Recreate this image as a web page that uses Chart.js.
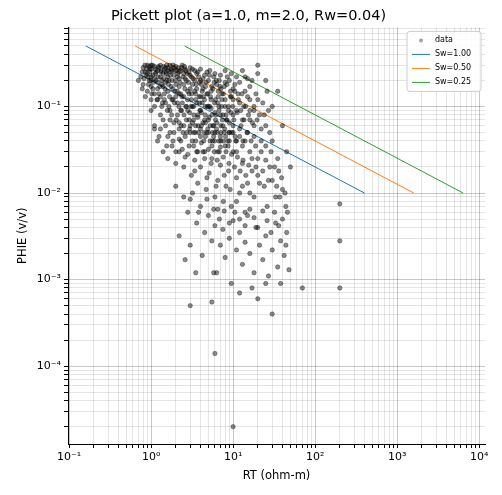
<!DOCTYPE html>
<html>
<head>
<meta charset="utf-8">
<script src="https://cdn.jsdelivr.net/npm/chart.js@4.4.0/dist/chart.umd.min.js"></script>
<style>
body{margin:0;background:#fff}
#wrap{width:502px;height:495px}
</style>
</head>
<body>
<div id="wrap"><canvas id="c" width="502" height="495"></canvas></div>
<script>
// scatter points (RT, PHIE)
const dataPts=[
0.75,0.22,0.8,0.28,0.85,0.25,0.9,0.3,0.95,0.2,1.0,0.27,1.05,0.23,1.1,0.29,1.2,0.26,1.3,0.3,
1.4,0.24,1.5,0.28,1.6,0.22,1.7,0.3,1.8,0.26,2.0,0.29,2.2,0.25,2.4,0.3,2.6,0.27,3.0,0.28,
0.8,0.18,0.9,0.15,1.0,0.12,1.0,0.17,1.1,0.1,1.1,0.14,1.2,0.19,1.3,0.08,1.3,0.13,1.4,0.17,
1.5,0.06,1.5,0.11,1.6,0.15,1.7,0.09,1.8,0.2,1.9,0.05,2.0,0.13,2.1,0.08,2.2,0.17,2.3,0.04,
2.4,0.11,2.5,0.06,2.6,0.21,2.8,0.09,2.9,0.14,3.0,0.05,3.2,0.18,3.3,0.07,3.5,0.12,3.6,0.03,
3.8,0.22,4.0,0.09,4.2,0.15,4.4,0.05,4.6,0.1,4.8,0.25,5.0,0.07,5.3,0.13,5.6,0.04,5.9,0.19,
6.2,0.08,6.5,0.11,6.8,0.03,7.1,0.16,7.5,0.06,8.0,0.1,8.5,0.22,9.0,0.05,9.5,0.13,10,0.08,
10.5,0.18,11,0.04,12,0.11,13,0.07,14,0.15,15,0.05,16,0.09,17,0.2,18,0.06,20,0.12,
22,0.04,24,0.08,26,0.15,28,0.05,30,0.1,1.2,0.04,1.4,0.03,1.6,0.025,1.8,0.035,2.0,0.022,
2.2,0.03,2.5,0.02,2.8,0.028,3.1,0.016,3.4,0.024,3.7,0.013,4.0,0.02,4.3,0.03,4.7,0.011,
5.1,0.017,5.5,0.025,6.0,0.009,6.5,0.014,7.0,0.021,7.6,0.008,8.2,0.012,8.8,0.018,9.5,0.007,
10,0.03,11,0.015,12,0.01,13,0.022,14,0.006,15,0.013,17,0.025,18,0.009,20,0.016,22,0.03,
24,0.012,26,0.007,28,0.02,30,0.014,33,0.009,36,0.018,40,0.011,44,0.007,30,0.04,35,0.025,
2.0,0.012,2.5,0.009,2.8,0.006,3.2,0.01,3.6,0.0045,4.0,0.007,4.5,0.0035,5.0,0.0055,5.5,0.0028,
6.0,0.0042,6.5,0.0065,7.0,0.0025,7.5,0.0038,8.0,0.0018,9.0,0.003,10,0.0048,11,0.0022,
12,0.0035,13,0.0015,14,0.0027,15,0.0055,16,0.002,18,0.0012,19,0.004,21,0.0025,23,0.0017,
25,0.0032,27,0.0011,30,0.0022,33,0.0045,35,0.0014,38,0.0028,42,0.0019,45,0.0035,48,0.0013,
2.2,0.0032,2.6,0.0017,3.0,0.0025,3.5,0.0012,4.2,0.0019,5.8,0.0012,6.3,0.0012,9.5,0.0009,
12,0.0007,17,0.0008,20,0.0006,25,0.0009,30,0.0004,38,0.0009,3.0,0.0005,5.5,0.00055,
6.0,0.00014,10,0.00002,200,0.0075,200,0.0028,200,0.0008,70,0.0008,
1.0,0.22,1.0,0.2,1.1,0.21,1.2,0.16,1.3,0.22,1.5,0.19,1.6,0.26,1.8,0.12,2.0,0.18,2.1,0.22,
2.3,0.14,2.5,0.18,2.7,0.1,3.0,0.16,3.2,0.1,3.4,0.2,3.7,0.08,4.0,0.13,4.1,0.18,4.5,0.07,
4.8,0.14,5.2,0.1,5.5,0.17,5.8,0.06,6.1,0.12,6.6,0.15,7.0,0.08,7.3,0.12,7.8,0.17,8.3,0.07,
8.8,0.1,9.3,0.15,10,0.12,11,0.09,11.5,0.14,12.5,0.06,13.5,0.1,15,0.13,16,0.07,18,0.1,
19,0.14,21,0.08,23,0.11,25,0.06,27,0.09,3.0,0.06,3.5,0.04,4.0,0.045,4.5,0.03,5.0,0.05,
5.5,0.035,6.0,0.05,6.5,0.03,7.0,0.045,8.0,0.035,9.0,0.04,10,0.05,11,0.03,12,0.045,
13,0.035,14,0.04,16,0.03,18,0.045,20,0.025,22,0.055,25,0.035,0.9,0.24,0.95,0.29,1.0,0.3,
1.15,0.25,1.25,0.28,1.35,0.2,1.45,0.27,1.55,0.3,1.65,0.2,1.75,0.27,1.9,0.23,2.05,0.26,
2.2,0.21,2.35,0.28,2.5,0.24,2.7,0.2,2.9,0.25,3.1,0.22,3.4,0.26,3.6,0.16,3.9,0.19,4.3,0.21,
4.6,0.17,5.0,0.2,5.4,0.15,5.8,0.22,6.3,0.18,6.8,0.2,7.3,0.14,8.0,0.19,9.0,0.2,10,0.16,
12,0.19,14,0.22,16,0.17,20,0.24,20,0.3,25,0.2,35,0.15,40,0.06,45,0.03,50,0.02,
1.3,0.055,1.6,0.045,1.9,0.065,2.2,0.055,2.6,0.045,2.9,0.035,3.3,0.05,1.7,0.07,2.3,0.09,
0.7,0.2,0.78,0.16,0.85,0.13,0.92,0.22,1.0,0.09,1.1,0.06,1.2,0.12,1.35,0.1,1.45,0.14
];
// extra points in the dense core of the cloud
const corePts=[
0.82,0.21,0.88,0.27,0.93,0.18,0.97,0.25,1.02,0.14,1.07,0.19,1.12,0.27,1.18,0.12,1.22,0.22,1.28,0.17,
1.33,0.26,1.38,0.11,1.42,0.21,1.48,0.16,1.53,0.24,1.58,0.09,1.63,0.18,1.68,0.13,1.72,0.23,1.78,0.08,
1.83,0.16,1.88,0.28,1.93,0.11,1.98,0.2,2.03,0.07,2.08,0.15,2.13,0.24,2.18,0.1,2.25,0.19,2.32,0.06,
2.38,0.13,2.45,0.22,2.52,0.08,2.58,0.16,2.65,0.26,2.72,0.05,2.78,0.12,2.85,0.19,2.92,0.07,2.98,0.23,
3.05,0.1,3.12,0.14,3.18,0.04,3.25,0.21,3.32,0.08,3.4,0.15,3.48,0.06,3.55,0.18,3.62,0.11,3.7,0.25,
3.78,0.05,3.85,0.13,3.93,0.09,4.02,0.2,4.1,0.06,4.2,0.11,4.3,0.16,4.38,0.04,4.48,0.12,4.58,0.08,
4.68,0.19,4.78,0.05,4.9,0.14,5.02,0.1,5.14,0.23,5.26,0.06,5.4,0.12,5.52,0.08,5.66,0.16,5.8,0.045,
5.95,0.11,6.1,0.07,6.25,0.2,6.4,0.05,6.56,0.13,6.72,0.09,6.9,0.17,7.06,0.04,7.24,0.1,7.42,0.07,
7.6,0.14,7.8,0.05,8.0,0.12,8.2,0.08,8.4,0.18,8.6,0.04,8.8,0.09,9.0,0.065,9.3,0.13,9.6,0.05,
9.9,0.1,10.2,0.07,10.5,0.15,10.8,0.04,11.2,0.085,11.6,0.12,12,0.055,12.4,0.09,12.8,0.14,13.2,0.04,
13.6,0.07,14.2,0.1,14.8,0.05,15.4,0.08,16,0.12,16.6,0.04,17.2,0.065,18,0.09,18.8,0.035,19.6,0.07,
1.05,0.16,1.15,0.2,1.25,0.14,1.35,0.18,1.45,0.12,1.55,0.2,1.65,0.1,1.75,0.17,1.85,0.12,1.95,0.15,
2.1,0.11,2.2,0.14,2.35,0.09,2.5,0.13,2.65,0.1,2.8,0.15,2.95,0.085,3.1,0.12,3.3,0.1,3.5,0.14,
3.7,0.075,3.9,0.11,4.1,0.085,4.35,0.13,4.6,0.065,4.85,0.1,5.1,0.075,5.4,0.095,5.7,0.06,6.0,0.085,
6.35,0.065,6.7,0.1,7.1,0.06,7.5,0.08,7.9,0.055,8.4,0.07,8.9,0.05,9.4,0.085,10,0.06,10.6,0.045,
2.2,0.065,2.45,0.05,2.7,0.07,2.95,0.055,3.2,0.065,3.45,0.05,3.75,0.06,4.0,0.055,4.3,0.065,4.6,0.045,
4.9,0.055,5.25,0.04,5.6,0.05,5.95,0.04,6.3,0.055,6.7,0.04,7.1,0.05,7.6,0.04,8.1,0.045,8.7,0.035,
3.3,0.035,3.7,0.03,4.1,0.038,4.5,0.025,5.0,0.032,5.4,0.022,5.9,0.03,6.4,0.024,7.0,0.034,7.6,0.026,
8.2,0.03,8.9,0.022,9.6,0.028,10.4,0.02,11.3,0.026,12.2,0.018,13.2,0.024,14.3,0.016,15.5,0.021,17,0.018,
0.78,0.25,0.84,0.3,0.87,0.23,0.96,0.27,1.04,0.3,1.13,0.24,1.23,0.29,1.32,0.25,1.42,0.29,1.52,0.25,
1.62,0.28,1.72,0.25,1.86,0.3,1.96,0.26,2.15,0.28,2.3,0.26,2.55,0.29,2.75,0.24,3.2,0.27,3.6,0.24,
4.0,0.27,4.5,0.23,5.2,0.26,6.0,0.24,7.0,0.23,8.0,0.26,9.5,0.24,11,0.22,13,0.26,15,0.21,
1.1,0.055,1.25,0.045,1.4,0.07,1.55,0.035,1.7,0.05,1.85,0.04,2.0,0.03,2.2,0.042,2.4,0.032,2.6,0.026,
3.4,0.018,4.8,0.015,6.2,0.012,7.8,0.016,9.2,0.011,11,0.008,13,0.012,16,0.01,19,0.02,21,0.013,
23,0.018,25,0.024,27,0.014,29,0.03,32,0.02,34,0.012,37,0.009,39,0.015,43,0.01,46,0.006,
3.0,0.0085,3.8,0.006,4.8,0.0085,5.8,0.0065,6.8,0.005,7.8,0.0062,9.0,0.0045,10.5,0.006,12,0.005,14,0.0042,
16,0.0065,18,0.0052,20,0.004,23,0.0062,26,0.0048,29,0.0035,32,0.006,36,0.0042,40,0.005,44,0.0025
];
// Sw lines end points
const sw100X=[0.16,400], sw100Y=[0.5,0.01];
const sw050X=[0.64,1600], sw050Y=[0.5,0.01];
const sw025X=[2.56,6400], sw025Y=[0.5,0.01];

const scatter=[];
const allPts=dataPts.concat(corePts);
for(let i=0;i<allPts.length;i+=2) scatter.push({x:allPts[i],y:allPts[i+1]});
function pairs(xs,ys){return xs.map((v,i)=>({x:v,y:ys[i]}))}

function logTicks(lo,hi){
  const t=[];
  for(let e=lo;e<=hi;e++) for(let m=1;m<10;m++) t.push({value:m*Math.pow(10,e),major:m==1});
  return t;
}
const sup={'-':'⁻','0':'⁰','1':'¹','2':'²','3':'³','4':'⁴','5':'⁵','6':'⁶','7':'⁷','8':'⁸','9':'⁹'};
function lab(v){
  const e=Math.round(Math.log10(v));
  if(Math.abs(v/Math.pow(10,e)-1)>1e-6) return '';
  return '10'+String(e).split('').map(c=>sup[c]).join('');
}

const legendPlugin={
  id:'inLegend',
  afterDraw(chart){
    const ctx=chart.ctx, a=chart.chartArea;
    const w=74,h=60,x=a.right-w-4,y=a.top+4;
    ctx.save();
    ctx.fillStyle='rgba(255,255,255,0.85)';
    ctx.strokeStyle='#cccccc';
    ctx.lineWidth=1;
    ctx.beginPath();ctx.roundRect(x,y,w,h,3);ctx.fill();ctx.stroke();
    ctx.font='8px "DejaVu Sans"';
    ctx.textBaseline='middle';
    chart.data.datasets.forEach((d,i)=>{
      const yy=y+9+i*14;
      if(i==0){
        ctx.fillStyle='rgba(0,0,0,0.35)';
        ctx.beginPath();ctx.arc(x+14,yy,2,0,Math.PI*2);ctx.fill();
      }else{
        ctx.strokeStyle=d.borderColor;ctx.lineWidth=1;
        ctx.beginPath();ctx.moveTo(x+5,yy);ctx.lineTo(x+23,yy);ctx.stroke();
      }
      ctx.fillStyle='#000';
      ctx.fillText(d.label,x+28,yy);
    });
    ctx.restore();
  }
};

new Chart(document.getElementById('c'),{
  type:'scatter',
  data:{datasets:[
    {label:'data',data:scatter,backgroundColor:'rgba(0,0,0,0.45)',borderColor:'rgba(0,0,0,0.55)',borderWidth:0.6,pointRadius:2.2},
    {label:'Sw=1.00',type:'line',data:pairs(sw100X,sw100Y),borderColor:'#1f77b4',borderWidth:1,pointRadius:0,showLine:true},
    {label:'Sw=0.50',type:'line',data:pairs(sw050X,sw050Y),borderColor:'#ff7f0e',borderWidth:1,pointRadius:0,showLine:true},
    {label:'Sw=0.25',type:'line',data:pairs(sw025X,sw025Y),borderColor:'#2ca02c',borderWidth:1,pointRadius:0,showLine:true}
  ]},
  options:{
    responsive:false,animation:false,
    layout:{padding:{left:12,right:17,top:0,bottom:8}},
    plugins:{
      legend:{display:false},tooltip:{enabled:false},
      title:{display:true,text:'Pickett plot (a=1.0, m=2.0, Rw=0.04)',color:'#000',font:{family:'DejaVu Sans',size:14.5,weight:'normal'},padding:{top:8,bottom:2}}
    },
    scales:{
      x:{type:'logarithmic',min:0.097,max:11800,
        afterBuildTicks(s){s.ticks=logTicks(-1,4).filter(t=>t.value>=0.097&&t.value<=11800)},
        ticks:{autoSkip:false,maxRotation:0,color:'#000',font:{family:'DejaVu Sans',size:11},callback:v=>lab(v)},
        grid:{color:c=>c.tick&&c.tick.major?'rgba(0,0,0,0.22)':'rgba(0,0,0,0.1)',tickColor:'#000',tickLength:4},
        border:{color:'#000'},
        title:{display:true,text:'RT (ohm-m)',color:'#000',font:{family:'DejaVu Sans',size:11.5},padding:{top:2}}
      },
      y:{type:'logarithmic',min:1.26e-5,max:0.82,
        afterBuildTicks(s){s.ticks=logTicks(-5,0).filter(t=>t.value>=1.26e-5&&t.value<=0.82)},
        ticks:{autoSkip:false,color:'#000',font:{family:'DejaVu Sans',size:11},callback:v=>lab(v)},
        grid:{color:c=>c.tick&&c.tick.major?'rgba(0,0,0,0.22)':'rgba(0,0,0,0.1)',tickColor:'#000',tickLength:4},
        border:{color:'#000'},
        title:{display:true,text:'PHIE (v/v)',color:'#000',font:{family:'DejaVu Sans',size:11.5}}
      }
    }
  },
  plugins:[legendPlugin]
});
</script>
</body>
</html>
